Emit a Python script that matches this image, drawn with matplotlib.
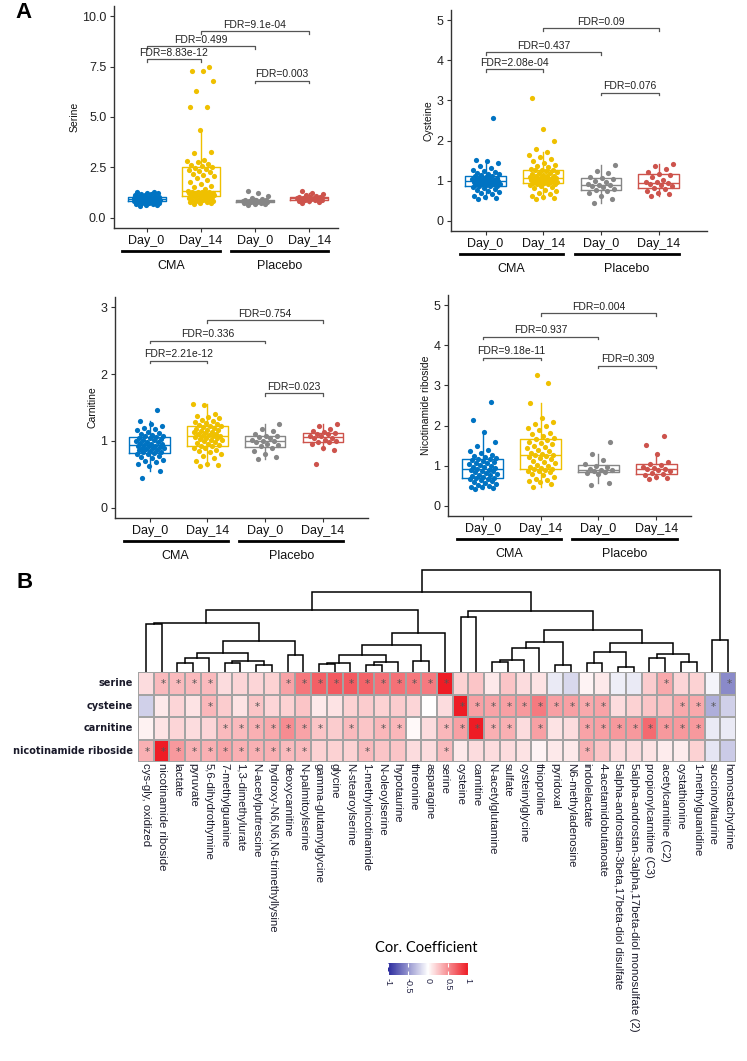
import numpy as np
import matplotlib.pyplot as plt
from matplotlib.colors import LinearSegmentedColormap

plt.rcParams['font.family'] = ['Liberation Sans', 'DejaVu Sans']

W, H = 747, 1061
fig = plt.figure(figsize=(W / 100, H / 100), dpi=100)


def add_ax(x0, y0, x1, y1):
    # pixel box (top-left origin) -> figure axes
    return fig.add_axes([x0 / W, 1 - y1 / H, (x1 - x0) / W, (y1 - y0) / H])


# ---------------- panel A data ----------------
days = ['Day_0', 'Day_14', 'Day_0', 'Day_14']
arms = ['CMA', 'Placebo']
box_colors = ['#0073C2', '#EFC000', '#868686', '#CD534C']

serine_cma0 = [0.6, 0.62, 0.65, 0.68, 0.7, 0.72, 0.74, 0.76, 0.78, 0.8, 0.82, 0.83, 0.84, 0.85, 0.86,
               0.87, 0.88, 0.88, 0.89, 0.9, 0.9, 0.91, 0.92, 0.92, 0.93, 0.93, 0.94, 0.94, 0.95, 0.95,
               0.96, 0.96, 0.97, 0.98, 0.98, 0.99, 1.0, 1.0, 1.01, 1.02, 1.04, 1.06, 1.08, 1.1, 1.12,
               1.15, 1.18, 1.2, 1.22, 1.25, 1.28, 1.3]
serine_cma14 = [0.7, 0.72, 0.75, 0.78, 0.8, 0.82, 0.85, 0.88, 0.9, 0.92, 0.95, 0.98, 1.0, 1.02, 1.05,
                1.07, 1.08, 1.1, 1.12, 1.13, 1.15, 1.16, 1.18, 1.2, 1.21, 1.22, 1.24, 1.25, 1.26, 1.27,
                1.28, 1.3, 1.35, 1.45, 1.55, 1.6, 1.7, 1.8, 1.9, 2.0, 2.1, 2.15, 2.2, 2.25, 2.3, 2.35,
                2.4, 2.45, 2.5, 2.55, 2.6, 2.65, 2.75, 2.8, 2.85, 3.2, 3.25, 4.35, 5.5, 5.5, 6.3, 6.8,
                7.3, 7.3, 7.5]
serine_pla0 = [0.65, 0.68, 0.7, 0.72, 0.75, 0.78, 0.79, 0.8, 0.81, 0.82, 0.83, 0.84, 0.85, 0.86, 0.87,
               0.88, 0.9, 0.95, 1.0, 1.1, 1.25, 1.35]
serine_pla14 = [0.75, 0.78, 0.82, 0.86, 0.88, 0.9, 0.91, 0.93, 0.94, 0.95, 0.96, 0.97, 0.98, 1.0, 1.02,
                1.03, 1.05, 1.08, 1.12, 1.18, 1.25, 1.32]

cysteine_cma0 = [0.55, 0.58, 0.6, 0.63, 0.66, 0.7, 0.72, 0.75, 0.78, 0.8, 0.82, 0.84, 0.86, 0.87, 0.88,
                 0.89, 0.9, 0.91, 0.92, 0.93, 0.94, 0.95, 0.96, 0.97, 0.97, 0.98, 0.99, 1.0, 1.01, 1.02,
                 1.03, 1.04, 1.05, 1.06, 1.07, 1.08, 1.1, 1.11, 1.12, 1.14, 1.16, 1.18, 1.2, 1.22, 1.25,
                 1.28, 1.32, 1.36, 1.45, 1.5, 1.52, 2.55]
cysteine_cma14 = [0.55, 0.58, 0.6, 0.63, 0.67, 0.7, 0.74, 0.78, 0.82, 0.85, 0.88, 0.9, 0.92, 0.93, 0.93,
                  0.94, 0.95, 0.96, 0.97, 0.98, 0.99, 1.0, 1.01, 1.02, 1.03, 1.04, 1.05, 1.06, 1.07, 1.07,
                  1.08, 1.09, 1.1, 1.11, 1.12, 1.13, 1.15, 1.17, 1.19, 1.2, 1.22, 1.24, 1.26, 1.27, 1.28,
                  1.3, 1.34, 1.38, 1.4, 1.45, 1.5, 1.55, 1.6, 1.65, 1.72, 1.8, 2.0, 2.3, 3.05]
cysteine_pla0 = [0.45, 0.55, 0.62, 0.7, 0.75, 0.78, 0.8, 0.84, 0.87, 0.9, 0.9, 0.93, 0.97, 1.0, 1.05,
                 1.08, 1.1, 1.2, 1.25, 1.4]
cysteine_pla14 = [0.63, 0.66, 0.7, 0.75, 0.8, 0.83, 0.86, 0.9, 0.92, 0.94, 0.96, 0.98, 1.02, 1.1, 1.15,
                  1.18, 1.22, 1.3, 1.38, 1.42]

carnitine_cma0 = [0.45, 0.55, 0.62, 0.65, 0.68, 0.7, 0.72, 0.74, 0.76, 0.78, 0.8, 0.81, 0.82, 0.83, 0.84,
                  0.85, 0.86, 0.87, 0.88, 0.89, 0.9, 0.9, 0.91, 0.92, 0.92, 0.93, 0.94, 0.95, 0.96, 0.97,
                  0.98, 0.99, 1.0, 1.01, 1.02, 1.03, 1.04, 1.05, 1.06, 1.07, 1.08, 1.09, 1.1, 1.12, 1.14,
                  1.16, 1.18, 1.2, 1.22, 1.25, 1.3, 1.47]
carnitine_cma14 = [0.63, 0.64, 0.66, 0.7, 0.74, 0.77, 0.8, 0.83, 0.85, 0.87, 0.89, 0.9, 0.92, 0.93, 0.94,
                   0.95, 0.97, 0.98, 1.0, 1.01, 1.02, 1.03, 1.04, 1.05, 1.06, 1.07, 1.08, 1.08, 1.09, 1.1,
                   1.11, 1.12, 1.13, 1.14, 1.15, 1.16, 1.17, 1.18, 1.2, 1.21, 1.22, 1.23, 1.24, 1.25, 1.27,
                   1.28, 1.3, 1.32, 1.34, 1.36, 1.38, 1.4, 1.53, 1.55]
carnitine_pla0 = [0.73, 0.76, 0.8, 0.85, 0.9, 0.92, 0.94, 0.96, 0.98, 1.0, 1.0, 1.02, 1.04, 1.06, 1.08,
                  1.08, 1.1, 1.15, 1.18, 1.25]
carnitine_pla14 = [0.66, 0.87, 0.9, 0.95, 0.98, 0.99, 1.0, 1.02, 1.04, 1.05, 1.07, 1.08, 1.1, 1.11, 1.12,
                   1.14, 1.15, 1.18, 1.22, 1.25]

nr_cma0 = [0.42, 0.44, 0.46, 0.48, 0.5, 0.52, 0.55, 0.58, 0.6, 0.62, 0.64, 0.66, 0.68, 0.69, 0.7, 0.72,
           0.74, 0.76, 0.78, 0.8, 0.82, 0.84, 0.86, 0.88, 0.9, 0.9, 0.92, 0.94, 0.96, 0.98, 1.0, 1.02,
           1.04, 1.06, 1.08, 1.1, 1.12, 1.14, 1.16, 1.18, 1.2, 1.22, 1.25, 1.28, 1.32, 1.36, 1.4, 1.5,
           1.6, 1.85, 2.13, 2.58]
nr_cma14 = [0.47, 0.55, 0.6, 0.62, 0.65, 0.68, 0.72, 0.76, 0.8, 0.84, 0.86, 0.88, 0.9, 0.92, 0.93, 0.95,
            0.98, 1.0, 1.03, 1.06, 1.1, 1.13, 1.16, 1.2, 1.22, 1.24, 1.26, 1.28, 1.3, 1.33, 1.36, 1.4,
            1.43, 1.46, 1.5, 1.53, 1.56, 1.6, 1.63, 1.66, 1.7, 1.74, 1.78, 1.82, 1.88, 1.95, 2.0, 2.05,
            2.1, 2.2, 2.55, 3.05, 3.25]
nr_pla0 = [0.53, 0.58, 0.8, 0.83, 0.85, 0.88, 0.9, 0.9, 0.92, 0.97, 1.0, 1.05, 1.15, 1.3, 1.6]
nr_pla14 = [0.68, 0.7, 0.72, 0.78, 0.8, 0.83, 0.86, 0.9, 0.91, 0.93, 0.95, 0.98, 1.02, 1.05, 1.1, 1.3,
            1.52, 1.75]

# (group a, group b, bracket height, label)
serine_fdr = [(1, 2, 7.85, 'FDR=8.83e-12'), (1, 3, 8.5, 'FDR=0.499'),
              (2, 4, 9.25, 'FDR=9.1e-04'), (3, 4, 6.8, 'FDR=0.003')]
cysteine_fdr = [(1, 2, 3.77, 'FDR=2.08e-04'), (1, 3, 4.2, 'FDR=0.437'),
                (2, 4, 4.79, 'FDR=0.09'), (3, 4, 3.19, 'FDR=0.076')]
carnitine_fdr = [(1, 2, 2.2, 'FDR=2.21e-12'), (1, 3, 2.5, 'FDR=0.336'),
                 (2, 4, 2.8, 'FDR=0.754'), (3, 4, 1.71, 'FDR=0.023')]
nr_fdr = [(1, 2, 3.69, 'FDR=9.18e-11'), (1, 3, 4.21, 'FDR=0.937'),
          (2, 4, 4.79, 'FDR=0.004'), (3, 4, 3.49, 'FDR=0.309')]


def box_panel(box, values, ylabel, ylim, xmax, yticks, yticklabels, fdr):
    ax = add_ax(*box)
    h = box[3] - box[1]
    for i, (vals, c) in enumerate(zip(values, box_colors)):
        pos = i + 1
        bp = ax.boxplot(vals, positions=[pos], widths=0.7, showfliers=False, showcaps=False,
                        manage_ticks=False)
        for key in ['boxes', 'whiskers', 'medians']:
            for art in bp[key]:
                art.set_color(c)
                art.set_linewidth(1.0)
        n = len(vals)
        off = ((np.arange(n) * 0.618034 + 0.25) % 1 - 0.5) * 0.5
        ax.scatter(pos + off, vals, s=14, color=c, lw=0, zorder=3)
    tick = 0.012 * (ylim[1] - ylim[0])
    for a, b, y, lab in fdr:
        ax.plot([a, a, b, b], [y - tick, y, y, y - tick], color='#555555', lw=0.9)
        ax.text((a + b) / 2, y + tick * 0.6, lab, ha='center', va='bottom', fontsize=7.5, color='#222222')
    ax.set_xlim(0.4, xmax)
    ax.set_ylim(*ylim)
    ax.set_xticks([1, 2, 3, 4], days)
    ax.set_yticks(yticks, yticklabels)
    for s in ['top', 'right']:
        ax.spines[s].set_visible(False)
    for s in ['left', 'bottom']:
        ax.spines[s].set_color('#333333')
        ax.spines[s].set_linewidth(1.0)
    ax.tick_params(length=3, width=0.8, colors='#333333', labelsize=9, pad=2.5)
    ax.tick_params(axis='x', labelcolor='#111111', pad=2)
    ax.tick_params(axis='y', labelcolor='#222222')
    ax.set_ylabel(ylabel, fontsize=7.5, labelpad=2, color='#111111')
    tr = ax.get_xaxis_transform()
    for (x0, x1), xm, lab in zip([(0.55, 2.35), (2.55, 4.35)], [1.45, 3.45], arms):
        ax.plot([x0, x1], [-23 / h, -23 / h], transform=tr, clip_on=False, color='black', lw=2)
        ax.text(xm, -38 / h, lab, transform=tr, ha='center', va='center', fontsize=9, color='#111111')
    return ax


box_panel((114, 6, 338, 228), [serine_cma0, serine_cma14, serine_pla0, serine_pla14], 'Serine',
          (-0.5, 10.5), 4.53, [0, 2.5, 5, 7.5, 10], ['0.0', '2.5', '5.0', '7.5', '10.0'], serine_fdr)
box_panel((451, 10, 707, 231), [cysteine_cma0, cysteine_cma14, cysteine_pla0, cysteine_pla14], 'Cysteine',
          (-0.25, 5.25), 4.84, [0, 1, 2, 3, 4, 5], ['0', '1', '2', '3', '4', '5'], cysteine_fdr)
box_panel((115, 297, 368, 518), [carnitine_cma0, carnitine_cma14, carnitine_pla0, carnitine_pla14],
          'Carnitine', (-0.15, 3.15), 4.78, [0, 1, 2, 3], ['0', '1', '2', '3'], carnitine_fdr)
box_panel((448, 295, 691, 516), [nr_cma0, nr_cma14, nr_pla0, nr_pla14], 'Nicotinamide riboside',
          (-0.25, 5.25), 4.6, [0, 1, 2, 3, 4, 5], ['0', '1', '2', '3', '4', '5'], nr_fdr)

fig.text(15 / W, 1 - 18 / H, 'A', fontsize=16, fontweight='bold', va='baseline')
fig.text(16 / W, 1 - 588 / H, 'B', fontsize=16, fontweight='bold', va='baseline')

# ---------------- panel B data ----------------
row_names = ['serine', 'cysteine', 'carnitine', 'nicotinamide riboside']
col_names = ['cys-gly, oxidized', 'nicotinamide riboside', 'lactate', 'pyruvate', '5,6-dihydrothymine',
             '7-methylguanine', '1,3-dimethylurate', 'N-acetylputrescine',
             'hydroxy-N6,N6,N6-trimethyllysine', 'deoxycarnitine', 'N-palmitoylserine',
             'gamma-glutamylglycine', 'glycine', 'N-stearoylserine', '1-methylnicotinamide',
             'N-oleoylserine', 'hypotaurine', 'threonine', 'asparagine', 'serine', 'cysteine',
             'carnitine', 'N-acetylglutamine', 'sulfate', 'cysteinylglycine', 'thioproline', 'pyridoxal',
             'N6-methyladenosine', 'indolelactate', '4-acetamidobutanoate',
             '5alpha-androstan-3beta,17beta-diol disulfate',
             '5alpha-androstan-3alpha,17beta-diol monosulfate (2)', 'propionylcarnitine (C3)',
             'acetylcarnitine (C2)', 'cystathionine', '1-methylguanidine', 'succinoyltaurine',
             'homostachydrine']

cor_serine = [0.15, 0.3, 0.3, 0.3, 0.3, 0.15, 0.18, 0.18, 0.2, 0.4, 0.6, 0.7, 0.72, 0.72, 0.68, 0.62,
              0.62, 0.6, 0.58, 1.0, 0.2, 0.25, 0.1, 0.25, 0.15, 0.12, -0.1, -0.18, 0.05, 0.1, -0.08,
              -0.1, 0.22, 0.38, 0.18, 0.2, -0.05, -0.55]
cor_cysteine = [-0.22, 0.1, 0.18, 0.12, 0.32, 0.22, 0.12, 0.25, 0.18, 0.2, 0.25, 0.1, 0.12, 0.2, 0.22,
                0.2, 0.22, 0.18, 0.0, 0.15, 1.0, 0.42, 0.4, 0.42, 0.45, 0.58, 0.42, 0.42, 0.38, 0.4,
                0.15, 0.2, 0.25, 0.28, 0.38, 0.38, -0.38, -0.22]
cor_carnitine = [0.06, 0.12, 0.18, 0.15, 0.18, 0.3, 0.3, 0.35, 0.38, 0.5, 0.4, 0.25, 0.22, 0.3, 0.25,
                 0.32, 0.32, 0.03, 0.15, 0.32, 0.42, 1.0, 0.35, 0.35, 0.15, 0.42, 0.12, 0.15, 0.4, 0.42,
                 0.45, 0.45, 0.65, 0.45, 0.45, 0.45, -0.1, -0.1]
cor_nr = [0.35, 1.0, 0.45, 0.35, 0.35, 0.4, 0.35, 0.35, 0.35, 0.3, 0.3, 0.2, 0.2, 0.2, 0.3, 0.25, 0.25,
          0.15, 0.15, 0.3, 0.1, 0.15, 0.15, 0.15, 0.12, 0.05, 0.1, 0.1, 0.35, 0.25, 0.15, 0.15, 0.12,
          0.08, 0.08, 0.2, -0.12, -0.25]

# significant cells (column numbers, 1-based)
sig_serine = [2, 3, 4, 5, 10, 11, 12, 13, 14, 15, 16, 17, 18, 19, 20, 34, 38]
sig_cysteine = [5, 8, 21, 22, 23, 24, 25, 26, 27, 28, 29, 30, 35, 36, 37]
sig_carnitine = [6, 7, 8, 9, 10, 11, 12, 14, 16, 17, 20, 21, 22, 23, 24, 26, 29, 30, 31, 32, 33, 34, 35, 36]
sig_nr = [1, 2, 3, 4, 5, 6, 7, 8, 9, 10, 11, 15, 20, 29]

# column dendrogram: (left, right, merge height), leaves are 0-based column indices
col_tree = (
    ((((0, 1, 48),
       ((((2, 3, 9), 4, 14), ((5, 6, 9), (7, 8, 7), 11), 19), (9, 10, 17), 31), 49),
      (((((11, 12, 8), 13, 9), ((14, 15, 7), 16, 10), 17), (17, 18, 11), 27), 19, 39), 62),
     ((20, 21, 55),
      (((((22, 23, 10), 24, 12), 25, 24), (26, 27, 7), 30),
       (((28, 29, 9), (30, 31, 5), 20), ((32, 33, 14), (34, 35, 10), 18), 29), 42), 61), 80),
    (36, 37, 32), 102)

cmap = LinearSegmentedColormap.from_list('cor', ['#2B2B9E', '#FFFFFF', '#EE1C25'])

hm = add_ax(138, 672, 736, 762)
M = np.array([cor_serine, cor_cysteine, cor_carnitine, cor_nr])
mesh = hm.pcolormesh(np.arange(M.shape[1] + 1), np.arange(M.shape[0] + 1), M, cmap=cmap, vmin=-1, vmax=1,
                     edgecolors='#A3A3A3', linewidth=1.1)
hm.set_xlim(0, M.shape[1])
hm.set_ylim(M.shape[0], 0)
hm.axis('off')
for r, sig in enumerate([sig_serine, sig_cysteine, sig_carnitine, sig_nr]):
    for c in sig:
        hm.text(c - 0.42, r + 0.55, '*', ha='center', va='center', fontsize=7.5, color='#555555',
                family='DejaVu Sans')
for r, name in enumerate(row_names):
    hm.text(-0.3, r + 0.5, name, ha='right', va='center', fontsize=7, fontweight='bold',
            color='#1a1a2a', family='DejaVu Sans')
for c, name in enumerate(col_names):
    hm.text(c + 0.5, 4.05, name, rotation=270, ha='center', va='top', fontsize=8.2, color='#1a1a2a')

dg = add_ax(138, 562, 736, 672)
dg.set_xlim(0, M.shape[1])
dg.set_ylim(0, 110)
dg.axis('off')


def draw_tree(node):
    if isinstance(node, int):
        return node + 0.5, 0
    left, right, height = node
    xl, hl = draw_tree(left)
    xr, hr = draw_tree(right)
    dg.plot([xl, xl, xr, xr], [hl, height, height, hr], color='black', lw=1.1,
            solid_joinstyle='miter')
    return (xl + xr) / 2, height


draw_tree(col_tree)

cax = add_ax(388, 963, 468, 975)
cb = fig.colorbar(mesh, cax=cax, orientation='horizontal')
cb.outline.set_visible(False)
cb.set_ticks([-1, -0.5, 0, 0.5, 1], labels=['-1', '-0.5', '0', '0.5', '1'])
cax.tick_params(direction='in', length=3, width=0.8, color='white', labelsize=6.5, labelrotation=270,
                pad=2, labelcolor='#222244')
cax.xaxis.set_ticks_position('both')
cax.tick_params(labeltop=False)
fig.text(426 / W, 1 - 948 / H, 'Cor. Coefficient', ha='center', va='center', fontsize=10.5,
         family=['Lato', 'DejaVu Sans'])

fig.savefig('out.png', dpi=100)
